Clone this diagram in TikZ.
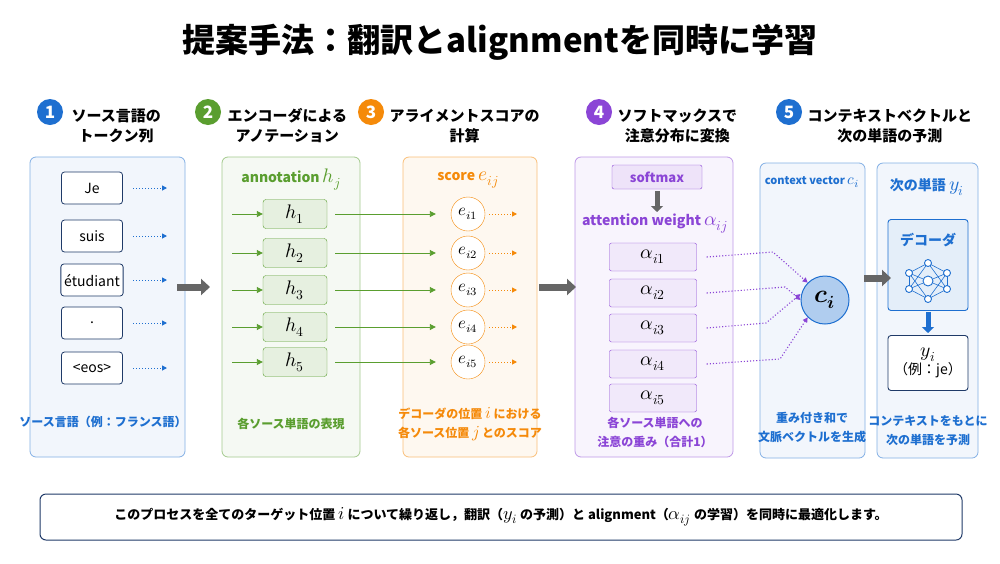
\documentclass[tikz,border=0pt]{standalone}
\usepackage{graphicx}
\usepackage{fontspec}
\usepackage{unicode-math}
\setmainfont{Noto Sans CJK JP}
\setmathfont{Latin Modern Math}
\usetikzlibrary{arrows.meta}
\newcommand{\Mx}[1]{\scalebox{1.4}{$#1$}}
\definecolor{cb}{HTML}{1E6FD0}
\definecolor{cg}{HTML}{5A9E2F}
\definecolor{co}{HTML}{F58A0A}
\definecolor{cp}{HTML}{8B45D6}
\definecolor{gr}{HTML}{666666}
\definecolor{nv}{HTML}{1F3A68}
\begin{document}
\begin{tikzpicture}[x=1pt,y=-1pt,
 panel/.style={draw=#1!55,fill=#1!6,rounded corners=6pt,line width=0.8pt},
 num/.style={circle,fill=#1,text=white,minimum size=26pt,inner sep=0pt,font=\bfseries\fontsize{17}{17}\selectfont},
 head/.style={font=\bfseries\fontsize{15}{20}\selectfont,align=center,text=black},
 tok/.style={draw=nv,rounded corners=3pt,fill=white,minimum width=61pt,minimum height=32pt,font=\fontsize{14}{14}\selectfont,line width=0.8pt},
 hb/.style={draw=cg,rounded corners=3pt,fill=cg!15,minimum width=64pt,minimum height=29pt,font=\fontsize{14}{14}\selectfont},
 ec/.style={draw=co,circle,fill=white,minimum size=34pt,inner sep=0pt,font=\fontsize{12}{12}\selectfont},
 ab/.style={draw=cp,rounded corners=2pt,fill=cp!12,minimum width=87pt,minimum height=28pt,font=\fontsize{14}{14}\selectfont},
 lab/.style={font=\bfseries\fontsize{12}{19}\selectfont,align=center},
 dar/.style={-{Triangle[length=5pt,width=5pt]},dotted,line width=1pt},
 big/.style={-{Triangle[length=9pt,width=16pt]},line width=7pt,draw=gr},
 nd/.style={circle,draw=cb,fill=white,line width=0.9pt,minimum size=7pt,inner sep=0pt}]
\useasboundingbox (0,0) rectangle (1000,563);
\fill[white] (0,0) rectangle (1000,563);
\node[font=\bfseries\fontsize{33}{33}\selectfont] (title) at (500,42) {提案手法：翻訳とalignmentを同時に学習};
% headers
\node[num=cb] (n1) at (50,112) {1};
\node[head,anchor=west] (t1) at (68,126) {ソース言語の\\トークン列};
\node[num=cg] (n2) at (208,112) {2};
\node[head,anchor=west] (t2) at (224,126) {エンコーダによる\\アノテーション};
\node[num=co] (n3) at (371,112) {3};
\node[head,anchor=west] (t3) at (386,126) {アライメントスコアの\\計算};
\node[num=cp] (n4) at (599,112) {4};
\node[head,anchor=west] (t4) at (614,126) {ソフトマックスで\\注意分布に変換};
\node[num=cb] (n5) at (789,112) {5};
\node[head,anchor=west] (t5) at (804,126) {コンテキストベクトルと\\次の単語の予測};
% panels
\draw[panel=cb] (30,157) rectangle (185,457);
\draw[panel=cg] (222,157) rectangle (360,457);
\draw[panel=co] (403,157) rectangle (537,457);
\draw[panel=cp] (575,157) rectangle (733,457);
\draw[panel=cb] (760,163) rectangle (865,458);
\draw[panel=cb] (877,163) rectangle (978,458);
% col1
\foreach \t/\y/\i in {Je/188/1,suis/236/2,étudiant/280/3,./323/4,{<eos>}/368/5}{
 \node[tok] (w\i) at (92,\y) {\t};
 \coordinate (wa\i) at (133,\y); \coordinate (wb\i) at (167,\y);
 \draw[dar,cb] (wa\i) -- (wb\i);}
\node[lab,text=cb] (l1) at (103,422) {ソース言語（例：フランス語）};
% col2
\node[lab,text=cg,font=\bfseries\fontsize{14}{14}\selectfont] (ah) at (291,180) {annotation \Mx{h_j}};
\foreach \y/\i in {214/1,253/2,290/3,327/4,362/5}{
 \node[hb] (h\i) at (295,\y) {\Mx{h_{\i}}};
 \coordinate (ha\i) at (232,\y);
 \draw[-{Triangle[length=6pt,width=6pt]},cg,line width=0.9pt] (ha\i) -- (h\i.west);
 \node[ec] (e\i) at (468,\y) {\Mx{e_{i\i}}};
 \draw[-{Triangle[length=6pt,width=6pt]},cg,line width=0.9pt] (h\i.east) ++(8,0) -- ([xshift=-15pt]e\i.west);
 \coordinate (ea\i) at (489,\y); \coordinate (eb\i) at (517,\y);
 \draw[dar,co] (ea\i) -- (eb\i);}
\node[lab,text=cg] (l2) at (291,424) {各ソース単語の表現};
% col3
\node[lab,text=co,font=\bfseries\fontsize{14}{14}\selectfont] (sc) at (468,180) {score \Mx{e_{ij}}};
\node[lab,text=co] (l3) at (470,424) {デコーダの位置 \Mx{i} における\\各ソース位置 \Mx{j} とのスコア};
% col4
\node[draw=cp,rounded corners=2pt,fill=cp!15,minimum width=90pt,minimum height=24pt,font=\bfseries\fontsize{13}{13}\selectfont,text=cp] (sm) at (657,177) {softmax};
\coordinate (sma) at (657,191); \coordinate (smb) at (657,212);
\draw[-{Triangle[length=6pt,width=12pt]},line width=5pt,draw=gr] (sma) -- (smb);
\node[lab,text=cp,font=\bfseries\fontsize{14}{14}\selectfont] (aw) at (655,224) {attention weight \Mx{\alpha_{ij}}};
\foreach \y/\i in {257/1,293/2,328/3,364/4,398/5}{
 \node[ab] (a\i) at (653,\y) {\Mx{\alpha_{i\i}}};}
\node[lab,text=cp] (l4) at (655,432) {各ソース単語への\\注意の重み（合計1）};
% col5a
\node[lab,text=cb,font=\bfseries\fontsize{11}{12}\selectfont] (cv) at (812,182) {context vector \Mx{c_i}};
\node[circle,draw=cb,fill=cb!35,line width=1pt,minimum size=48pt,inner sep=0pt,font=\fontsize{18}{18}\selectfont] (c) at (825,300) {\Mx{\symbfit{c_i}}};
\draw[dar,cp,line width=1.1pt] (a1.east) ++(10,0) -- (773,252) -- (c.north west);
\draw[dar,cp,line width=1.1pt] (a2.east) ++(10,0) -- (785,287) -- (c.west);
\draw[dar,cp,line width=1.1pt] (a3.east) ++(10,0) -- (766,323) -- ([yshift=6pt]c.west);
\draw[dar,cp,line width=1.1pt] (a4.east) ++(10,0) -- (780,359) -- (c.south west);
\node[lab,text=cb] (l5) at (812,428) {重み付き和で\\文脈ベクトルを生成};
% col5b
\node[lab,text=cb,font=\bfseries\fontsize{14}{14}\selectfont] (ny) at (927,187) {次の単語 \Mx{y_i}};
\node[draw=cb,rounded corners=3pt,fill=cb!12,line width=0.9pt,minimum width=80pt,minimum height=91pt] (dec) at (928,265) {};
\node[lab,text=cb,font=\bfseries\fontsize{14}{14}\selectfont] (dl) at (928,240) {デコーダ};
\coordinate (p1) at (909,273); \coordinate (p2) at (909,289);
\coordinate (q1) at (928,263); \coordinate (q2) at (928,281); \coordinate (q3) at (928,299);
\coordinate (r1) at (947,273); \coordinate (r2) at (947,289);
\foreach \a in {p1,p2}{\foreach \b in {q1,q2,q3}{\draw[cb,line width=0.6pt] (\a) -- (\b);}}
\foreach \a in {r1,r2}{\foreach \b in {q1,q2,q3}{\draw[cb,line width=0.6pt] (\a) -- (\b);}}
\draw[cb,line width=0.6pt] (p1)--(p2) (r1)--(r2);
\foreach \a in {p1,p2,q1,q3,r1,r2}{\node[nd] at (\a) {};}
\node[nd,minimum size=10pt] at (q2) {};
\coordinate (da) at (928,312); \coordinate (db) at (928,333);
\draw[-{Triangle[length=6pt,width=12pt]},line width=5pt,draw=cb] (da) -- (db);
\node[draw=nv,rounded corners=3pt,fill=white,line width=0.9pt,minimum width=80pt,minimum height=55pt,align=center,font=\fontsize{14}{18}\selectfont] (y) at (928,363) {\Mx{y_i}\\（例：je）};
\node[lab,text=cb] (l6) at (928,431) {コンテキストをもとに\\次の単語を予測};
% big arrows
\draw[big] (177,287) -- (210,287);
\draw[big] (539,287) -- (576,287);
\draw[big] (864,278) -- (891,278);
% bottom
\node[draw=nv,rounded corners=6pt,line width=1pt,minimum width=922pt,minimum height=46pt,font=\bfseries\fontsize{13}{13}\selectfont] (bot) at (501,517) {このプロセスを全てのターゲット位置 \Mx{i} について繰り返し，翻訳（\Mx{y_i} の予測）と alignment（\Mx{\alpha_{ij}} の学習）を同時に最適化します。};
\end{tikzpicture}
\end{document}
